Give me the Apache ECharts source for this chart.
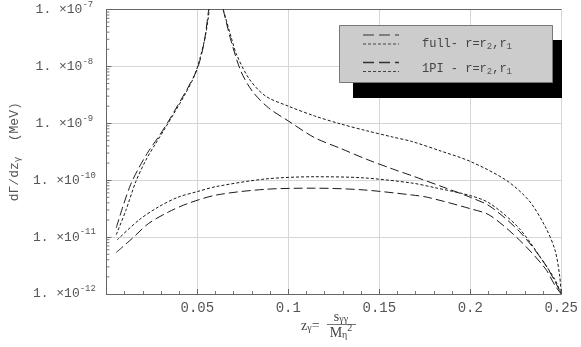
<!DOCTYPE html>
<html>
<head>
<meta charset="utf-8">
<script src="https://cdn.jsdelivr.net/npm/echarts@6/dist/echarts.min.js"></script>
<style>
  html, body { margin: 0; padding: 0; background: #fff; }
  #chart { width: 581px; height: 347px; }
</style>
</head>
<body>
<div id="chart"></div>
<script>
// full, r = r2 (long dashes); null = off the top of the plot (resonance)
const fullR2X = [0.0054, 0.009, 0.0134, 0.0179, 0.0232, 0.0286, 0.034, 0.0393, 0.0447, 0.0501, 0.0537, 0.0562, 0.0602,
  0.0642, 0.0687, 0.074, 0.0803, 0.0892, 0.1, 0.1143, 0.1286, 0.1429, 0.1572, 0.1679, 0.185, 0.2, 0.2109, 0.227, 0.24, 0.2466, 0.25];
const fullR2Y = [1.45e-11, 3.39e-11, 8.51e-11, 1.66e-10, 3.24e-10, 5.75e-10, 1.07e-9, 2.09e-9, 4.17e-9, 9.33e-9, 2.63e-8, 1e-7, null,
  1e-7, 2.69e-8, 8.13e-9, 3.63e-9, 1.86e-9, 1.10e-9, 5.62e-10, 3.63e-10, 2.34e-10, 1.58e-10, 1.20e-10, 7.59e-11, 5.01e-11, 3.47e-11, 1.26e-11, 3.80e-12, 1.66e-12, 1e-12];

// full, r = r1 (short dashes)
const fullR1X = [0.0054, 0.0107, 0.0161, 0.0215, 0.0268, 0.0322, 0.0376, 0.0429, 0.0483, 0.0515, 0.0545, 0.0566, 0.0602,
  0.0642, 0.0687, 0.0714, 0.0785, 0.0874, 0.1, 0.1143, 0.1286, 0.1429, 0.1572, 0.1679, 0.184, 0.2, 0.2197, 0.2323, 0.2413, 0.2466, 0.2492, 0.25];
const fullR1Y = [1.10e-11, 2.95e-11, 9.33e-11, 2.19e-10, 4.27e-10, 8.13e-10, 1.58e-9, 3.09e-9, 6.76e-9, 1.41e-8, 3.55e-8, 1e-7, null,
  1e-7, 3.16e-8, 1.66e-8, 6.03e-9, 3.02e-9, 2.0e-9, 1.35e-9, 9.77e-10, 7.41e-10, 5.75e-10, 4.79e-10, 3.24e-10, 2.14e-10, 1.0e-10, 4.37e-11, 1.51e-11, 5.89e-12, 2.04e-12, 1e-12];

// 1PI, r = r2
const onePiR2X = [0.0054, 0.0143, 0.0232, 0.034, 0.0447, 0.0606, 0.0874, 0.1143, 0.1411, 0.1679, 0.1765, 0.2, 0.2109, 0.227, 0.2412, 0.2466, 0.25];
const onePiR2Y = [5.37e-12, 9.55e-12, 1.74e-11, 2.75e-11, 3.89e-11, 5.50e-11, 6.92e-11, 7.24e-11, 6.76e-11, 5.50e-11, 5.01e-11, 3.16e-11, 2.40e-11, 8.91e-12, 2.82e-12, 1.41e-12, 1e-12];

// 1PI, r = r1
const onePiR1X = [0.0059, 0.0179, 0.0286, 0.0393, 0.05, 0.0606, 0.0874, 0.1143, 0.1411, 0.1679, 0.1804, 0.2, 0.2109, 0.227, 0.2412, 0.2466, 0.25];
const onePiR1Y = [8.91e-12, 2.0e-11, 3.39e-11, 5.01e-11, 6.31e-11, 7.76e-11, 1.05e-10, 1.15e-10, 1.10e-10, 8.91e-11, 7.41e-11, 5.37e-11, 3.89e-11, 1.41e-11, 3.31e-12, 1.78e-12, 1e-12];

// log minor ticks on the y axis (2..9 in each decade)
const minorMantissas = [2, 3, 4, 5, 6, 7, 8, 9];
const decades = [-12, -11, -10, -9, -8];

const mono = 'Liberation Mono';
const labelGray = '#555';
const lineColor = '#1a1a1a';
const dashLong = [9, 4];
const dashShort = [3, 2];

function pairs(xs, ys) {
  return xs.map((x, i) => [x, ys[i] === null ? '-' : ys[i]]);
}

const minorTickData = [];
decades.forEach(e => minorMantissas.forEach(m => minorTickData.push([0, m * Math.pow(10, e)])));

function curve(name, xs, ys, dash) {
  return {
    name: name,
    type: 'line',
    data: pairs(xs, ys),
    showSymbol: false,
    smooth: 0.3,
    connectNulls: false,
    clip: true,
    lineStyle: { color: lineColor, width: 1, type: dash },
    silent: true
  };
}

let chart = echarts.init(document.getElementById('chart'));
chart.setOption({
  animation: false,
  grid: { left: 97, right: 18, top: 6, bottom: 53 },
  xAxis: [{
    type: 'value',
    min: 0,
    max: 0.25,
    interval: 0.05,
    axisLine: { lineStyle: { color: '#666' } },
    axisTick: { inside: true, length: 5, lineStyle: { color: '#666' } },
    minorTick: { show: true, splitNumber: 5, length: 3, lineStyle: { color: '#777' } },
    splitLine: { show: true, lineStyle: { color: '#d6d6d6' } },
    axisLabel: {
      margin: 7,
      fontFamily: mono,
      fontSize: 14,
      color: labelGray,
      formatter: v => (v === 0 ? '' : String(+v.toFixed(2)))
    }
  }, {
    type: 'value',
    position: 'top',
    min: 0,
    max: 0.25,
    axisLine: { show: true, onZero: false, lineStyle: { color: '#666' } },
    axisTick: { show: false },
    axisLabel: { show: false },
    splitLine: { show: false }
  }],
  yAxis: {
    type: 'log',
    logBase: 10,
    min: 1e-12,
    max: 1e-7,
    axisLine: { show: true, lineStyle: { color: '#666' } },
    axisTick: { show: true, inside: true, length: 5, lineStyle: { color: '#666' } },
    splitLine: { show: true, lineStyle: { color: '#d6d6d6' } },
    name: 'd\u0393/dz{s|\u03b3}  (MeV)',
    nameLocation: 'middle',
    nameRotate: 90,
    nameGap: 84,
    nameTextStyle: {
      fontFamily: mono,
      fontSize: 13,
      color: labelGray,
      rich: { s: { fontFamily: mono, fontSize: 9, color: labelGray, padding: [6, 0, 0, 0] } }
    },
    axisLabel: {
      margin: 42,
      align: 'center',
      formatter: v => '{m|1. \u00d710}{e|' + Math.round(Math.log10(v)) + '}',
      rich: {
        m: { fontFamily: mono, fontSize: 13, color: labelGray },
        e: { fontFamily: mono, fontSize: 9, color: labelGray, padding: [0, 0, 10, 0] }
      }
    }
  },
  series: [
    curve('full r2', fullR2X, fullR2Y, dashLong),
    curve('full r1', fullR1X, fullR1Y, dashShort),
    curve('1PI r2', onePiR2X, onePiR2Y, dashLong),
    curve('1PI r1', onePiR1X, onePiR1Y, dashShort),
    {
      type: 'custom',
      silent: true,
      data: minorTickData,
      renderItem: function (params, api) {
        const p = api.coord([api.value(0), api.value(1)]);
        return {
          type: 'line',
          shape: { x1: p[0], y1: p[1], x2: p[0] + 3, y2: p[1] },
          style: { stroke: '#777', lineWidth: 1 }
        };
      }
    }
  ],
  graphic: [
    // legend box with drop shadow
    { type: 'rect', shape: { x: 353, y: 40, width: 209, height: 58 }, style: { fill: '#000' }, z: 10 },
    { type: 'rect', shape: { x: 339.5, y: 25.5, width: 213, height: 57 }, style: { fill: '#cccccc', stroke: '#777', lineWidth: 1 }, z: 11 },
    { type: 'line', shape: { x1: 363, y1: 35, x2: 399, y2: 35 }, style: { stroke: '#333', lineWidth: 1, lineDash: [11, 5] }, z: 12 },
    { type: 'line', shape: { x1: 363, y1: 44, x2: 399, y2: 44 }, style: { stroke: '#444', lineWidth: 1, lineDash: [3, 2] }, z: 12 },
    { type: 'line', shape: { x1: 363, y1: 62.5, x2: 399, y2: 62.5 }, style: { stroke: '#333', lineWidth: 1.3, lineDash: [11, 5] }, z: 12 },
    { type: 'line', shape: { x1: 363, y1: 71.5, x2: 399, y2: 71.5 }, style: { stroke: '#444', lineWidth: 1, lineDash: [3, 2] }, z: 12 },
    {
      type: 'text', x: 422, y: 44, z: 12,
      style: {
        text: '{t|full- r=r}{b|2}{t|,r}{b|1}',
        verticalAlign: 'middle',
        rich: {
          t: { fontFamily: mono, fontSize: 12, fill: '#444' },
          b: { fontFamily: mono, fontSize: 9, fill: '#555', padding: [6, 0, 0, 0] }
        }
      }
    },
    {
      type: 'text', x: 422, y: 69, z: 12,
      style: {
        text: '{t|1PI - r=r}{b|2}{t|,r}{b|1}',
        verticalAlign: 'middle',
        rich: {
          t: { fontFamily: mono, fontSize: 12, fill: '#444' },
          b: { fontFamily: mono, fontSize: 9, fill: '#555', padding: [6, 0, 0, 0] }
        }
      }
    },
    // x axis title: z_gamma = s_gammagamma / M_eta^2
    {
      type: 'text', x: 301, y: 326,
      style: {
        text: '{n|z}{b|\u03b3}{n|=}',
        verticalAlign: 'middle',
        rich: {
          n: { fontFamily: 'Liberation Serif', fontSize: 14, fill: '#444' },
          b: { fontFamily: 'Liberation Serif', fontSize: 10, fill: '#444', padding: [5, 0, 0, 0] }
        }
      }
    },
    {
      type: 'text', x: 341, y: 317,
      style: {
        text: '{n|s}{b|\u03b3\u03b3}',
        align: 'center',
        verticalAlign: 'middle',
        rich: {
          n: { fontFamily: 'Liberation Serif', fontSize: 14, fill: '#444' },
          b: { fontFamily: 'Liberation Serif', fontSize: 10, fill: '#444', padding: [5, 0, 0, 0] }
        }
      }
    },
    { type: 'line', shape: { x1: 327, y1: 324.5, x2: 356, y2: 324.5 }, style: { stroke: '#777', lineWidth: 1 } },
    {
      type: 'text', x: 341, y: 333,
      style: {
        text: '{n|M}{b|\u03b7}{p|2}',
        align: 'center',
        verticalAlign: 'middle',
        rich: {
          n: { fontFamily: 'Liberation Serif', fontSize: 14, fill: '#444' },
          b: { fontFamily: 'Liberation Serif', fontSize: 10, fill: '#444', padding: [5, 0, 0, 0] },
          p: { fontFamily: 'Liberation Serif', fontSize: 10, fill: '#444', padding: [0, 0, 9, 0] }
        }
      }
    }
  ]
});
window.addEventListener('resize', function () {
  chart.resize();
});
</script>
</body>
</html>
